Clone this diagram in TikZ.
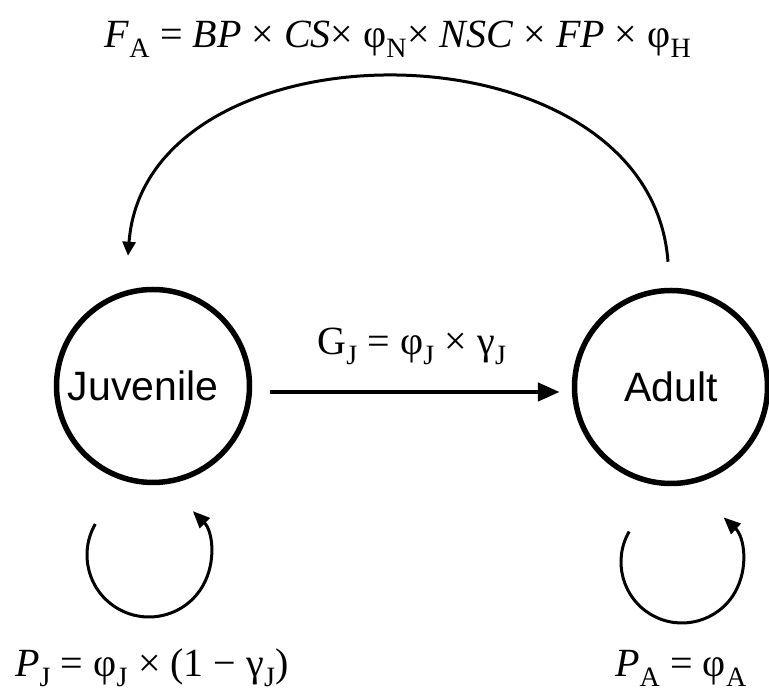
\documentclass[tikz,border=0pt]{standalone}
\usepackage{fontspec}
\setmainfont{Liberation Serif}
\newfontfamily\arialf{Liberation Sans}
\usetikzlibrary{arrows.meta}
\newcommand\sbx[1]{\textsubscript{\upshape #1}}
\begin{document}
\begin{tikzpicture}[x=1pt,y=1pt]
\useasboundingbox (0,0) rectangle (769,692);
\tikzset{
  state/.style={circle, draw, line width=5.5pt, minimum size=193pt, inner sep=0pt,
    font=\arialf\fontsize{41}{48}\selectfont},
  formula/.style={font=\fontsize{40}{48}\selectfont, inner sep=0pt, anchor=base},
  mainarrow/.style={line width=4.5pt, -{Triangle[length=22pt,width=18pt]}},
  arcarrow/.style={line width=3pt, -{Triangle[length=14pt,width=13pt]}},
  selfloop/.style={line width=3pt, -{Triangle[length=17pt,width=14pt]}},
}
\node[state] (juv) at (153,306) {\hspace*{-20pt}Juvenile};
\node[state] (adult) at (671,305) {Adult};
% transition juvenile -> adult
\draw[mainarrow] ([shift={(18pt,-6pt)}]juv.east) -- ([shift={(-12pt,-5pt)}]adult.west);
\node[formula] (gj) at (412,337) {G\sbx{J} = φ\sbx{J} × γ\sbx{J}};
% fecundity arc
\coordinate (as) at ([shift={(-3pt,26pt)}]adult.north);
\coordinate (js) at ([shift={(-25pt,31pt)}]juv.north);
\draw[arcarrow] (as) .. controls (650,676) and (146,676) .. (js);
\node[formula] (fa) at (398,644) {\textit{F}\sbx{A} = \textit{BP} × \textit{CS}× φ\sbx{N}× \textit{NSC} × \textit{FP} × φ\sbx{H}};
% self loops
\coordinate (jl) at ([shift={(-4pt,-169pt)}]juv.center);
\draw[selfloop] ([shift={(150:62pt)}]jl) arc[start angle=150, end angle=405, radius=62pt];
\coordinate (al) at ([shift={(11pt,-175pt)}]adult.center);
\draw[selfloop] ([shift={(150:61pt)}]al) arc[start angle=150, end angle=407, radius=61pt];
\node[formula] (pj) at (152,15) {\textit{P}\sbx{J} = φ\sbx{J} × (1 − γ\sbx{J})};
\node[formula] (pa) at (681,15) {\textit{P}\sbx{A} = φ\sbx{A}};
\end{tikzpicture}
\end{document}
